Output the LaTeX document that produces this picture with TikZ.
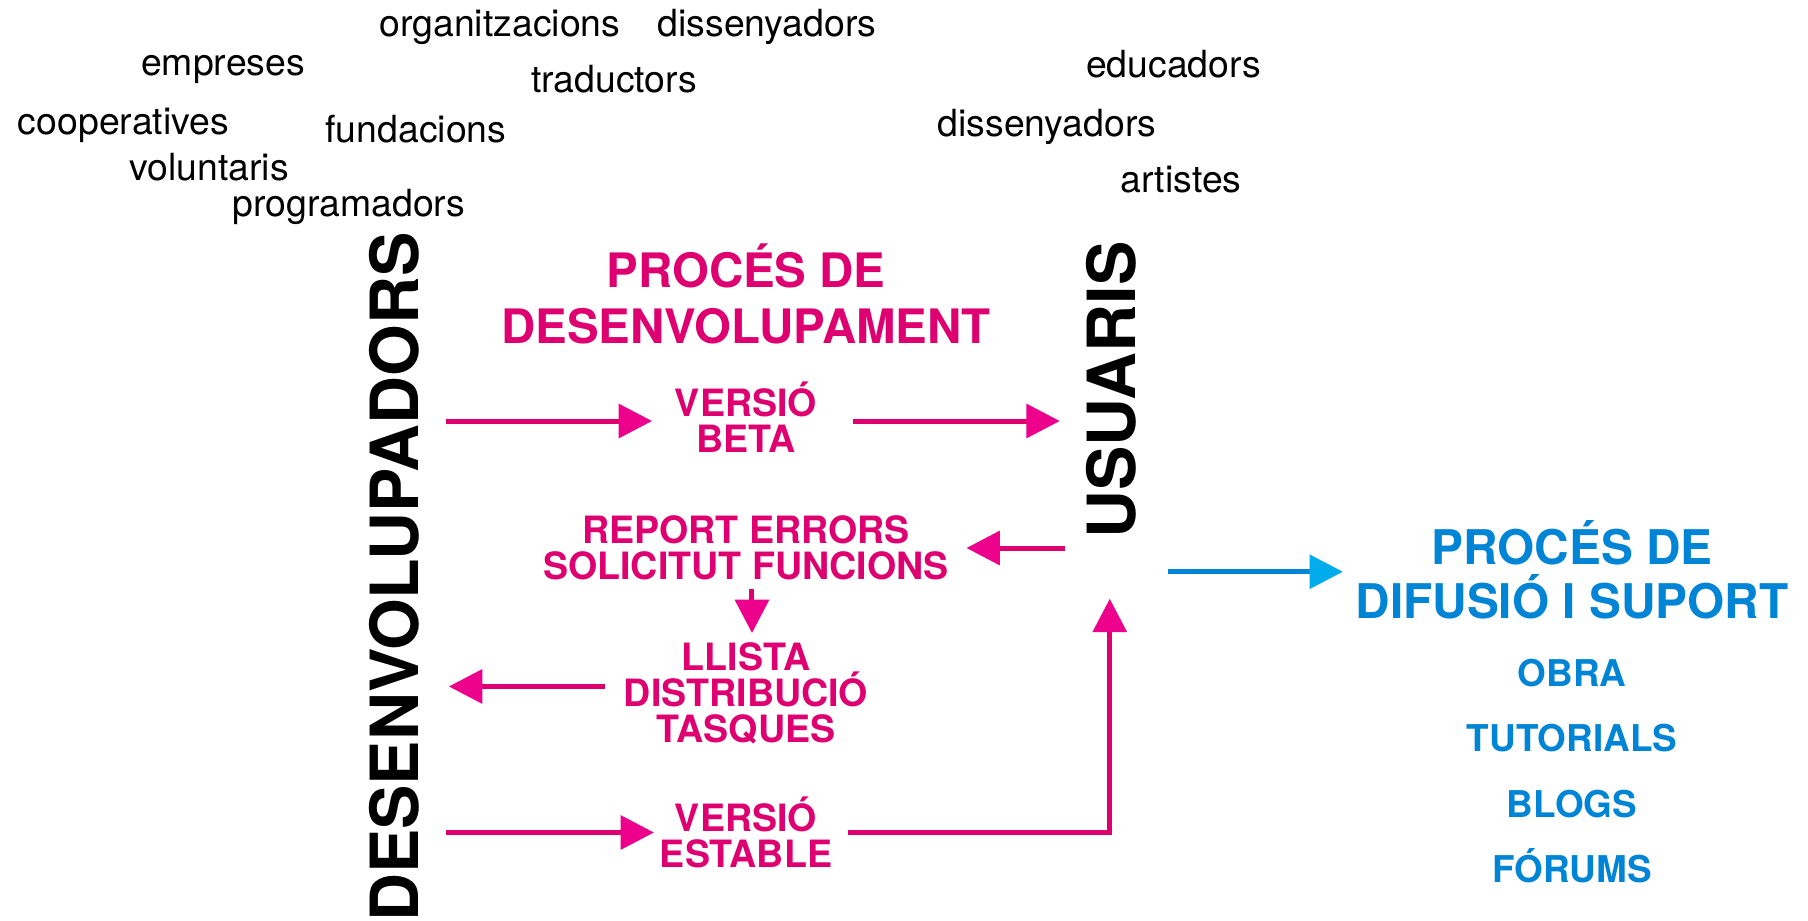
\documentclass[tikz,border=0pt]{standalone}
\usepackage{fontspec}
\setmainfont{TeX Gyre Heros}
\usetikzlibrary{arrows.meta}
\definecolor{devpink}{RGB}{222,0,112}
\definecolor{tippink}{RGB}{236,0,140}
\definecolor{difblue}{RGB}{0,132,214}
\definecolor{tipblue}{RGB}{0,172,236}

\begin{document}
\begin{tikzpicture}[
		word/.style={anchor=base, inner sep=0pt, font=\fontsize{10.64pt}{12pt}\selectfont},
		side/.style={rotate=90, inner sep=0pt, font=\bfseries\fontsize{18.9pt}{20pt}\selectfont},
		devtitle/.style={text=devpink, align=center, inner sep=0pt, font=\bfseries\fontsize{13.5pt}{15.9pt}\selectfont},
		devstep/.style={text=devpink, align=center, inner sep=0pt, font=\bfseries\fontsize{10.7pt}{10.2pt}\selectfont},
		diftitle/.style={text=difblue, align=center, inner sep=0pt, font=\bfseries\fontsize{13.6pt}{15.4pt}\selectfont},
		difitem/.style={text=difblue, anchor=base, inner sep=0pt, font=\bfseries\fontsize{10.5pt}{12pt}\selectfont},
		devflow/.style={draw=devpink, line width=1.42pt, -{Triangle[length=9.5pt,width=9.5pt,color=tippink]}},
		difflow/.style={draw=difblue, line width=1.42pt, -{Triangle[length=9.5pt,width=9.5pt,color=tipblue]}}
	]
		%%%%% START %%%%%
		
		\useasboundingbox (0, 0) rectangle (18.08, 9.2);
		
		% who takes part
		\node[word] (organ) at (5.00, 8.83) {organitzacions};
		\node[word] (disL) at (7.67, 8.83) {dissenyadors};
		\node[word] (empr) at (2.23, 8.44) {empreses};
		\node[word] (trad) at (6.14, 8.27) {traductors};
		\node[word] (coop) at (1.235, 7.85) {cooperatives};
		\node[word] (fund) at (4.16, 7.78) {fundacions};
		\node[word] (volu) at (2.09, 7.40) {voluntaris};
		\node[word] (prog) at (3.49, 7.04) {programadors};
		\node[word] (educ) at (11.735, 8.43) {educadors};
		\node[word] (disR) at (10.47, 7.84) {dissenyadors};
		\node[word] (arti) at (11.81, 7.28) {artistes};
		
		\node[side] (dev) at (3.94, 3.43) {DESENVOLUPADORS};
		\node[side] (usr) at (11.115, 5.30) {USUARIS};
		
		% development
		\node[devtitle] (procdev) at (7.46, 6.26) {PROCÉS DE\\DESENVOLUPAMENT};
		\node[devstep] (beta) at (7.46, 5.025) {VERSIÓ\\BETA};
		\node[devstep] (report) at (7.46, 3.72) {REPORT ERRORS\\SOLICITUT FUNCIONS};
		\node[devstep] (llista) at (7.46, 2.265) {LLISTA\\DISTRIBUCIÓ\\TASQUES};
		\node[devstep] (estable) at (7.46, 0.875) {VERSIÓ\\ESTABLE};
		
		\draw[devflow, shorten <=7.4pt, shorten >=6.3pt] ([yshift=-1pt]dev.south |- beta.west) -- ([yshift=-1pt]beta.west);
		\draw[devflow, shorten <=10pt, shorten >=7.4pt] ([yshift=-1pt]beta.east) -- ([yshift=-1pt]usr.north |- beta.east);
		\draw[devflow, shorten <=6pt, shorten >=4.8pt] (usr.north |- report.east) -- (report.east);
		\draw[devflow, shorten <=2.3pt, shorten >=2.6pt] ([xshift=1.7pt]report.south) -- ([xshift=1.7pt]llista.north);
		\draw[devflow, shorten <=5.1pt, shorten >=8.3pt] ([yshift=2pt]llista.west) -- ([yshift=2pt]dev.south |- llista.west);
		\draw[devflow, shorten <=7.4pt, shorten >=1.5pt] (dev.south |- estable.west) -- (estable.west);
		\draw[devflow, shorten <=4.3pt, shorten >=17pt] (estable.east) -| ([xshift=-0.5pt]usr.west);
		
		% spreading and support
		\node[diftitle] (procdif) at (15.72, 3.50) {PROCÉS DE\\DIFUSIÓ I SUPORT};
		\node[difitem] (obra) at (15.72, 2.34) {OBRA};
		\node[difitem] (tuto) at (15.72, 1.69) {TUTORIALS};
		\node[difitem] (blogs) at (15.72, 1.03) {BLOGS};
		\node[difitem] (forums) at (15.72, 0.38) {FÓRUMS};
		
		\draw[difflow, shorten <=8.8pt, shorten >=3.4pt] ([yshift=-0.5pt]usr.south |- procdif.west) -- ([yshift=-0.5pt]procdif.west);
		
		%%%%% END %%%%%
	\end{tikzpicture}
\end{document}
